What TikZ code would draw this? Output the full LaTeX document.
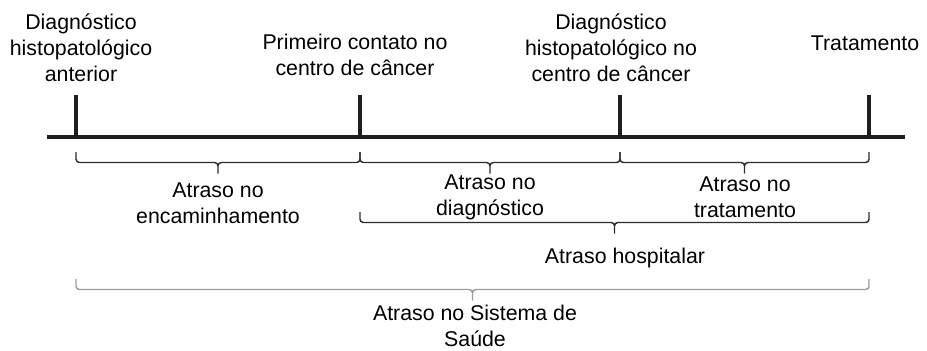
\documentclass[tikz,border=0pt]{standalone}
\usepackage{fontspec}
\setmainfont{Liberation Sans}
\usetikzlibrary{calc}
\definecolor{linha}{RGB}{30,30,30}
\definecolor{chave}{RGB}{45,45,45}
\definecolor{chaveclara}{RGB}{155,155,155}
\tikzset{
    rotulo/.style={align=center, inner sep=0pt, font=\fontsize{16}{19.5}\selectfont},
    marco/.style={line width=2.3pt, linha},
    chaveb/.style={line width=1.1pt, chave, rounded corners=2.5pt,
        to path={(\tikztostart) -- ++(0, 10.5) -- ($(\tikztostart)!0.5!(\tikztotarget) + (0, 10.5)$) -- ++(0, 11)
                 (\tikztotarget) -- ++(0, 10.5) -- ($(\tikztostart)!0.5!(\tikztotarget) + (0, 10.5)$) -- ++(0, 11)}},
}
\begin{document}
\begin{tikzpicture}[x=0.75pt, y=-0.75pt]
        \useasboundingbox (0, 0) rectangle (927, 350);
        % linha do tempo
        \coordinate (ini) at (47, 137);
        \coordinate (fim) at (905, 137);
        \draw[line width=3pt, linha] (ini) -- (fim);
        \coordinate (m1) at (76, 137);   \coordinate (m1t) at (76, 95);
        \coordinate (m2) at (360, 137);  \coordinate (m2t) at (360, 95);
        \coordinate (m3) at (620, 137);  \coordinate (m3t) at (620, 95);
        \coordinate (m4) at (869, 137);  \coordinate (m4t) at (869, 95);
        \draw[marco] (m1) -- (m1t);
        \draw[marco] (m2) -- (m2t);
        \draw[marco] (m3) -- (m3t);
        \draw[marco] (m4) -- (m4t);
        \node[rotulo] (anterior) at (81, 48) {Diagnóstico\\histopatológico\\anterior};
        \node[rotulo] (contato) at (355, 55) {Primeiro contato no\\centro de câncer};
        \node[rotulo] (centro) at (611, 48) {Diagnóstico\\histopatológico no\\centro de câncer};
        \node[rotulo] (trat) at (865, 43) {Tratamento};
        % chaves
        \coordinate (b1) at (76, 152);
        \coordinate (b2) at (360, 152);
        \coordinate (b3) at (620, 152);
        \coordinate (b4) at (869, 152);
        \draw[chaveb] (b1) to (b2);
        \draw[chaveb] (b2) to (b3);
        \draw[chaveb] (b3) to (b4);
        \node[rotulo] (encam) at (218, 203) {Atraso no\\encaminhamento};
        \node[rotulo] (diag) at (490, 197) {Atraso no\\diagnóstico};
        \node[rotulo] (tratam) at (745, 197) {Atraso no\\tratamento};
        \coordinate (h1) at (360, 212);
        \coordinate (h2) at (869, 212);
        \draw[chaveb] (h1) to (h2);
        \node[rotulo] (hosp) at (625, 258) {Atraso hospitalar};
        \coordinate (s1) at (76, 279);
        \coordinate (s2) at (869, 279);
        \draw[chaveb, chaveclara] (s1) to (s2);
        \node[rotulo] (sistema) at (475, 326) {Atraso no Sistema de\\Saúde};
    \end{tikzpicture}
\end{document}
